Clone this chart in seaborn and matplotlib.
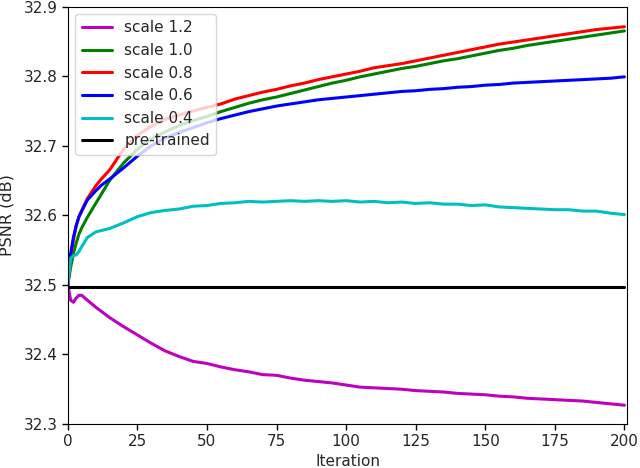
import matplotlib
matplotlib.use('Agg')
import matplotlib.pyplot as plt
import pandas as pd
import seaborn as sns

# iterações em que os valores foram lidos
iters = [0, 1, 2, 3, 4, 5, 7, 10, 12, 15, 20, 25, 30, 35, 40, 45, 50, 55, 60, 65,
         70, 75, 80, 85, 90, 95, 100, 105, 110, 115, 120, 125, 130, 135, 140, 145,
         150, 155, 160, 165, 170, 175, 180, 185, 190, 195, 200]

scale_12 = [32.500, 32.478, 32.475, 32.481, 32.485, 32.485, 32.478, 32.468, 32.462, 32.453,
            32.440, 32.428, 32.416, 32.405, 32.397, 32.390, 32.387, 32.382, 32.378, 32.375,
            32.371, 32.370, 32.366, 32.363, 32.361, 32.359, 32.356, 32.353, 32.352, 32.351,
            32.350, 32.348, 32.347, 32.346, 32.344, 32.343, 32.342, 32.340, 32.339, 32.337,
            32.336, 32.335, 32.334, 32.333, 32.331, 32.329, 32.327]
scale_10 = [32.500, 32.525, 32.545, 32.560, 32.573, 32.582, 32.597, 32.617, 32.630, 32.650,
            32.675, 32.695, 32.710, 32.720, 32.729, 32.736, 32.742, 32.749, 32.755, 32.761,
            32.766, 32.770, 32.775, 32.780, 32.785, 32.790, 32.794, 32.799, 32.803, 32.807,
            32.811, 32.814, 32.818, 32.822, 32.825, 32.829, 32.833, 32.837, 32.840, 32.844,
            32.847, 32.850, 32.853, 32.856, 32.859, 32.862, 32.865]
scale_08 = [32.500, 32.540, 32.565, 32.585, 32.598, 32.607, 32.624, 32.642, 32.652, 32.665,
            32.695, 32.715, 32.728, 32.738, 32.744, 32.750, 32.755, 32.760, 32.767, 32.772,
            32.777, 32.781, 32.786, 32.790, 32.795, 32.799, 32.803, 32.807, 32.812, 32.815,
            32.818, 32.822, 32.826, 32.830, 32.834, 32.838, 32.842, 32.846, 32.849, 32.852,
            32.855, 32.858, 32.861, 32.864, 32.867, 32.869, 32.871]
scale_06 = [32.500, 32.545, 32.568, 32.585, 32.598, 32.606, 32.622, 32.635, 32.643, 32.652,
            32.668, 32.685, 32.700, 32.711, 32.719, 32.726, 32.733, 32.739, 32.744, 32.749,
            32.753, 32.757, 32.760, 32.763, 32.766, 32.768, 32.770, 32.772, 32.774, 32.776,
            32.778, 32.779, 32.781, 32.782, 32.784, 32.785, 32.787, 32.788, 32.790, 32.791,
            32.792, 32.793, 32.794, 32.795, 32.796, 32.797, 32.799]
scale_04 = [32.500, 32.538, 32.542, 32.543, 32.548, 32.555, 32.568, 32.576, 32.578, 32.581,
            32.589, 32.598, 32.604, 32.607, 32.609, 32.613, 32.614, 32.617, 32.618, 32.620,
            32.619, 32.620, 32.621, 32.620, 32.621, 32.620, 32.621, 32.619, 32.620, 32.618,
            32.619, 32.617, 32.618, 32.616, 32.616, 32.614, 32.615, 32.612, 32.611, 32.610,
            32.609, 32.608, 32.608, 32.606, 32.606, 32.603, 32.601]
pretrained = 32.497

series = {'scale 1.2': scale_12, 'scale 1.0': scale_10, 'scale 0.8': scale_08,
          'scale 0.6': scale_06, 'scale 0.4': scale_04,
          'pre-trained': [pretrained] * len(iters)}
cores = ['m', 'g', 'r', 'b', 'c', 'k']

# dataframe em formato longo
df = pd.concat([pd.DataFrame({'Iteration': iters, 'PSNR': v, 'modelo': k})
                for k, v in series.items()], ignore_index=True)

sns.set_style('ticks')
plt.rcParams['font.family'] = ['DejaVu Sans']

fig = plt.figure(figsize=(6.4, 4.68), dpi=100)
ax = fig.add_axes([0.106, 0.094, 0.874, 0.892])
sns.lineplot(data=df, x='Iteration', y='PSNR', hue='modelo', palette=cores,
             linewidth=2.2, ax=ax)

ax.set_xlim(0, 201)
ax.set_ylim(32.3, 32.9)
ax.set_xticks(range(0, 201, 25))
ax.set_yticks([32.3, 32.4, 32.5, 32.6, 32.7, 32.8, 32.9])
ax.set_xlabel('Iteration', fontsize=11, labelpad=3)
ax.set_ylabel('PSNR (dB)', fontsize=11.5)
ax.yaxis.set_label_coords(-0.095, 0.5)
ax.tick_params(labelsize=11, length=4, width=1, color='black')
for s in ax.spines.values():
    s.set_color('black')
ax.legend(title=None, loc='upper left', fontsize=11, frameon=True)

fig.savefig('out.png', dpi=100)
